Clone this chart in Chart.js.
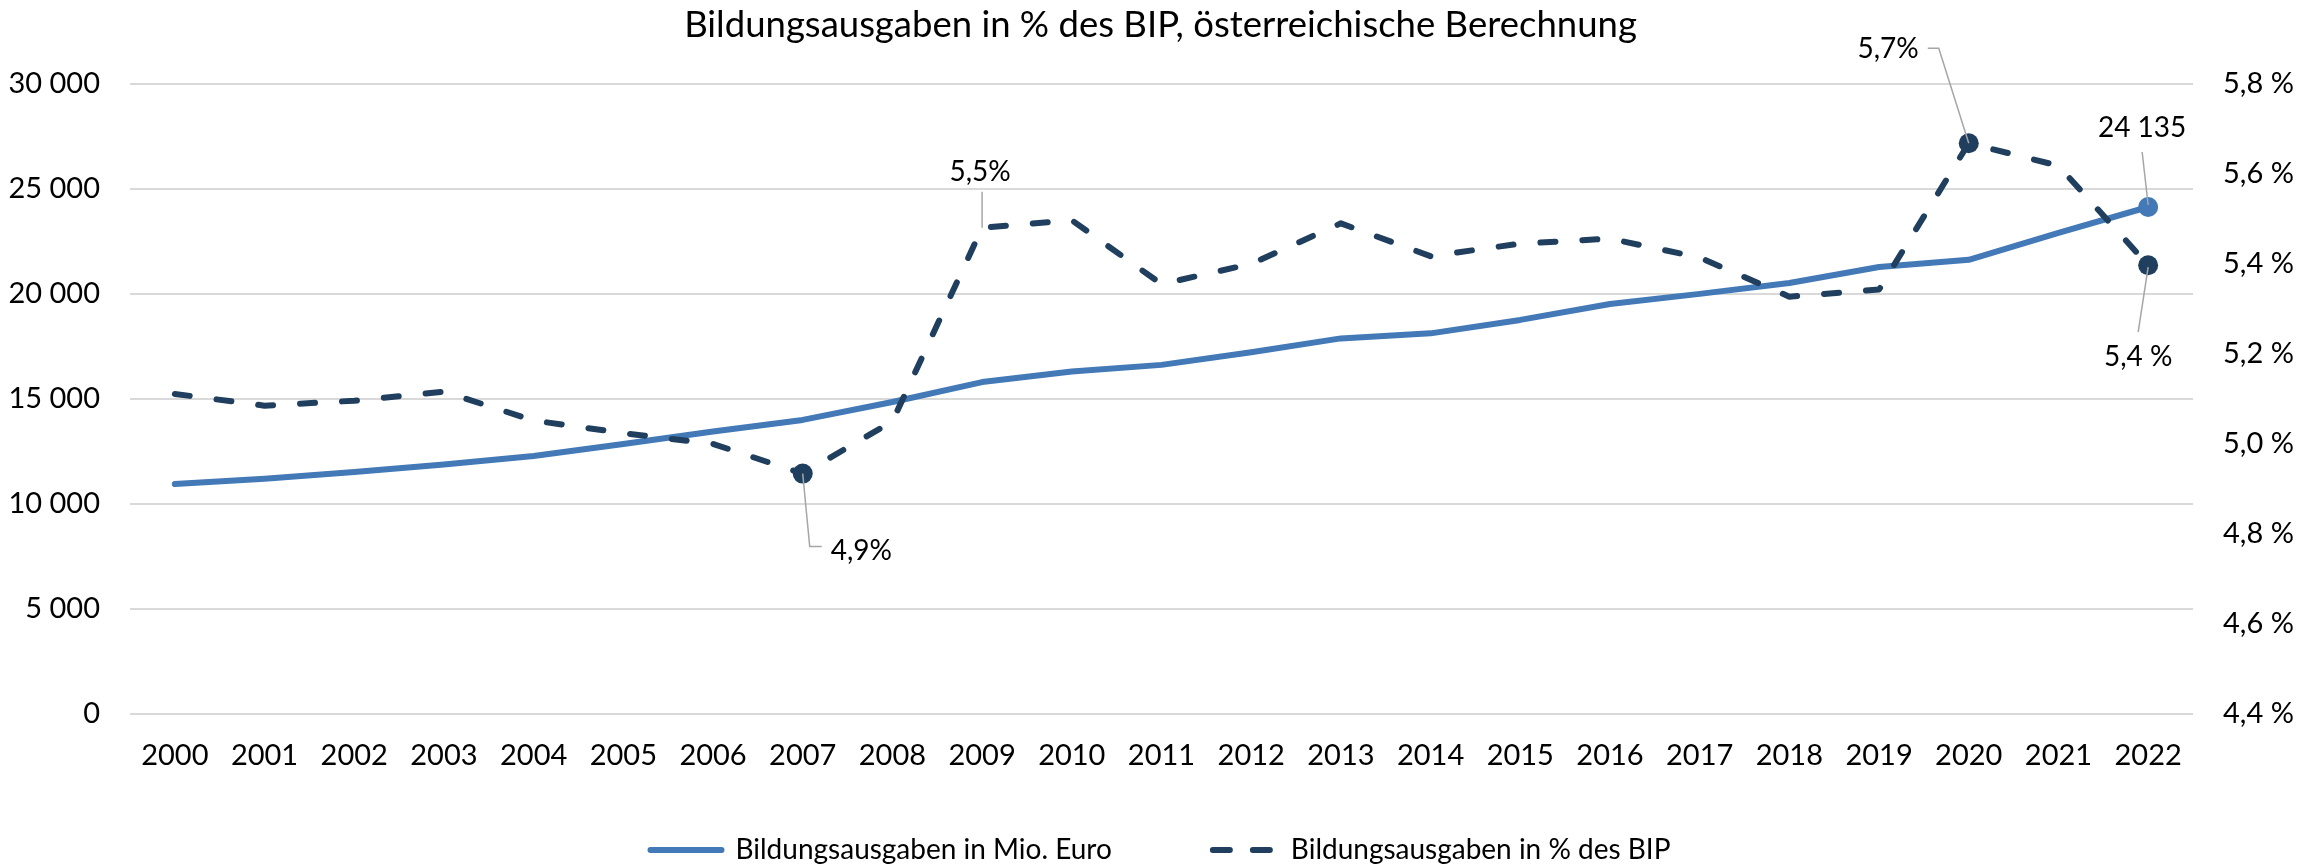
<!DOCTYPE html>
<html>
<head>
<meta charset="utf-8">
<script src="https://cdn.jsdelivr.net/npm/chart.js@4.4.1/dist/chart.umd.min.js"></script>
<style>
html,body{margin:0;padding:0;background:#fff;}
#wrap{width:2321px;height:865px;position:relative;}
</style>
</head>
<body>
<div id="wrap"><canvas id="c" width="2321" height="865"></canvas></div>
<script>
// ---- Data ----
const categories = ['2000','2001','2002','2003','2004','2005','2006','2007','2008','2009','2010','2011','2012','2013','2014','2015','2016','2017','2018','2019','2020','2021','2022'];
const ausgabenMioEuro = [10950, 11200, 11520, 11880, 12280, 12850, 13450, 14000, 14850, 15800, 16300, 16620, 17220, 17880, 18120, 18760, 19520, 20000, 20520, 21280, 21620, 22900, 24135];
const ausgabenProzentBIP = [5.111, 5.085, 5.096, 5.116, 5.052, 5.024, 5.000, 4.934, 5.050, 5.480, 5.497, 5.355, 5.400, 5.490, 5.417, 5.445, 5.456, 5.414, 5.327, 5.343, 5.668, 5.618, 5.397];
const leftAxisTicks = {min: 0, max: 30000, step: 5000};
const rightAxisTicks = {min: 4.4, max: 5.8, step: 0.2};
const seriesLabels = ['Bildungsausgaben in Mio. Euro', 'Bildungsausgaben in % des BIP'];
const titleText = 'Bildungsausgaben in % des BIP, österreichische Berechnung';
const markerEuro = [22];
const markerProzent = [7, 20, 22];

// ---- Styles ----
const FONT = 'Lato, "Open Sans", sans-serif';
const C_EURO = '#4279B6';
const C_PROZ = '#203F5E';
const C_GRID = '#D9D9D9';
const C_LEADER = '#A6A6A6';
const TICK_SIZE = 29;

const fmtThousands = v => String(Math.round(v)).replace(/\B(?=(\d{3})+(?!\d))/g, ' ');
const fmtPct = (v, sp) => v.toFixed(1).replace('.', ',') + (sp ? ' %' : '%');

// annotation definitions (text derived from data; offsets are styling relative to the point)
const annotations = [
  {ds: 1, i: 7,  text: () => fmtPct(ausgabenProzentBIP[7]),  path: [[0,0],[7,73],[19,73]], tx: 28, ty: 77, align: 'left'},
  {ds: 1, i: 9,  text: () => fmtPct(ausgabenProzentBIP[9]),  path: [[0,0],[0,-36]], tx: -2, ty: -56, align: 'center'},
  {ds: 1, i: 20, text: () => fmtPct(ausgabenProzentBIP[20]), path: [[0,0],[-30,-95],[-41,-95]], tx: -50, ty: -94, align: 'right'},
  {ds: 0, i: 22, text: () => fmtThousands(ausgabenMioEuro[22]), path: [[0,-2],[-6,-55]], tx: -6, ty: -79, align: 'center'},
  {ds: 1, i: 22, text: () => fmtPct(ausgabenProzentBIP[22], true), path: [[0,2],[-10,67]], tx: -10, ty: 92, align: 'center'}
];

const annotationPlugin = {
  id: 'annot',
  afterDatasetsDraw(chart) {
    const ctx = chart.ctx;
    ctx.save();
    annotations.forEach(a => {
      const meta = chart.getDatasetMeta(a.ds);
      const el = meta.data[a.i];
      const px = el.x, py = el.y;
      ctx.beginPath();
      ctx.strokeStyle = C_LEADER;
      ctx.lineWidth = 1.5;
      a.path.forEach((p, k) => {
        if (k === 0) ctx.moveTo(px + p[0], py + p[1]);
        else ctx.lineTo(px + p[0], py + p[1]);
      });
      ctx.stroke();
      ctx.fillStyle = '#000';
      ctx.font = '28px ' + FONT;
      ctx.textAlign = a.align;
      ctx.textBaseline = 'middle';
      ctx.fillText(a.text(), px + a.tx, py + a.ty);
    });
    ctx.restore();
  }
};

Chart.defaults.font.family = FONT;
Chart.defaults.color = '#000';

new Chart(document.getElementById('c'), {
  type: 'line',
  data: {
    labels: categories,
    datasets: [
      {
        label: seriesLabels[0],
        data: ausgabenMioEuro,
        yAxisID: 'y',
        borderColor: C_EURO,
        backgroundColor: C_EURO,
        borderWidth: 6,
        borderCapStyle: 'round',
        borderJoinStyle: 'round',
        tension: 0,
        pointRadius: c => markerEuro.includes(c.dataIndex) ? 10 : 0,
        pointHoverRadius: c => markerEuro.includes(c.dataIndex) ? 10 : 0,
        pointBackgroundColor: C_EURO,
        pointBorderWidth: 0,
        order: 1
      },
      {
        label: seriesLabels[1],
        data: ausgabenProzentBIP,
        yAxisID: 'y1',
        borderColor: C_PROZ,
        backgroundColor: C_PROZ,
        borderWidth: 6,
        borderDash: [15, 27],
        borderCapStyle: 'round',
        borderJoinStyle: 'round',
        tension: 0,
        pointRadius: c => markerProzent.includes(c.dataIndex) ? 10 : 0,
        pointHoverRadius: c => markerProzent.includes(c.dataIndex) ? 10 : 0,
        pointBackgroundColor: C_PROZ,
        pointBorderWidth: 0,
        order: 0
      }
    ]
  },
  options: {
    responsive: false,
    animation: false,
    events: [],
    devicePixelRatio: 1,
    layout: {padding: {left: 0, right: 0, top: 0, bottom: -9}},
    plugins: {
      tooltip: {enabled: false},
      title: {
        display: true,
        text: titleText,
        color: '#000',
        font: {size: 36.5, weight: 'normal', family: FONT},
        padding: {top: 3, bottom: 37}
      },
      legend: {
        position: 'bottom',
        labels: {
          usePointStyle: true,
          pointStyleWidth: 71,
          padding: 94,
          color: '#000',
          font: {size: 28, family: FONT},
          sort: (a, b) => a.datasetIndex - b.datasetIndex,
          generateLabels: chart => chart.data.datasets.map((ds, i) => ({
            text: ds.label,
            fillStyle: ds.borderColor,
            strokeStyle: ds.borderColor,
            lineWidth: 6,
            lineDash: ds.borderDash ? [17, 23] : [],
            lineDashOffset: ds.borderDash ? 33 : 0,
            lineCap: 'round',
            pointStyle: 'line',
            hidden: false,
            datasetIndex: i
          }))
        }
      }
    },
    scales: {
      x: {
        type: 'category',
        offset: true,
        grid: {display: false, drawTicks: false},
        border: {display: false},
        ticks: {font: {size: TICK_SIZE}, color: '#000', padding: 24, maxRotation: 0, autoSkip: false},
        afterFit: s => { s.height = 28; s._computeLabelArea = () => undefined; }
      },
      y: {
        position: 'left',
        min: leftAxisTicks.min,
        max: leftAxisTicks.max,
        grid: {color: C_GRID, lineWidth: 2, drawTicks: false},
        border: {display: false},
        ticks: {stepSize: leftAxisTicks.step, font: {size: TICK_SIZE}, color: '#000', padding: 30, callback: v => fmtThousands(v)},
        afterFit: s => { s.width = 130; }
      },
      y1: {
        position: 'right',
        min: rightAxisTicks.min,
        max: rightAxisTicks.max,
        grid: {drawOnChartArea: false, drawTicks: false},
        border: {display: false},
        ticks: {stepSize: rightAxisTicks.step, font: {size: TICK_SIZE}, color: '#000', padding: 30, callback: v => fmtPct(v, true)},
        afterFit: s => { s.width = 128; }
      }
    }
  },
  plugins: [annotationPlugin]
});
</script>
</body>
</html>
